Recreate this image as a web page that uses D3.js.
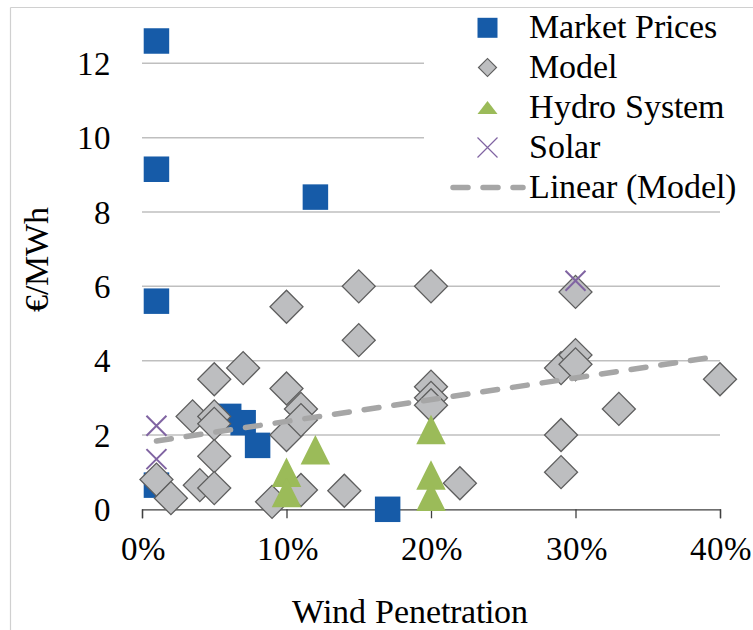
<!DOCTYPE html>
<html>
<head>
<meta charset="utf-8">
<script src="https://cdn.jsdelivr.net/npm/d3@7"></script>
<style>
  @font-face { font-family: "ChartSerif"; src: local("Liberation Serif"), local("LiberationSerif"), local("LiberationSerif-Regular"), local("Times New Roman"), local("TimesNewRomanPSMT"), local("Tinos"), local("Tinos-Regular"), local("DejaVu Serif"), local("DejaVuSerif"); }
  html, body { margin: 0; padding: 0; background: #fff; }
  svg { display: block; }
  svg text { font-family: "ChartSerif", "Liberation Serif", "DejaVu Serif", serif; fill: #000; }
</style>
</head>
<body>
<svg id="chart" width="753" height="630"></svg>
<script>
// ---- Data (x = wind penetration in %, y = €/MWh) ----
const marketX = [1, 1, 12, 1, 1, 6, 7, 8, 17];
const marketY = [12.6, 9.15, 8.4, 5.6, 0.65, 2.5, 2.33, 1.72, 0];

const modelX = [1, 2, 3.5, 4, 5, 5, 5, 5, 5, 7, 9, 10, 10, 10, 11, 11, 11, 14, 15, 15, 20, 20, 20, 20, 22, 29, 29, 29, 30, 30, 30, 33, 40];
const modelY = [0.8, 0.3, 2.5, 0.65, 3.5, 2.5, 2.3, 1.43, 0.57, 3.8, 0.2, 5.45, 3.25, 2.0, 2.7, 2.4, 0.52, 0.5, 6.0, 4.55, 6.0, 3.3, 3.0, 2.8, 0.7, 3.8, 2.0, 1.0, 5.85, 4.15, 3.9, 2.7, 3.5];

const hydroX = [12, 10, 10, 20, 20, 20];
const hydroY = [1.6, 1.0, 0.45, 2.15, 0.92, 0.35];

const solarX = [1, 1, 30];
const solarY = [2.25, 1.35, 6.15];

const xTicks = [0, 10, 20, 30, 40];
const yTicks = [0, 2, 4, 6, 8, 10, 12];
const legendLabels = ["Market Prices", "Model", "Hydro System", "Solar", "Linear (Model)"];

// ---- Setup ----
const FONT = '"ChartSerif", "Liberation Serif", "DejaVu Serif", serif';
const svg = d3.select("#chart");
const x = d3.scaleLinear().domain([0, 40]).range([142, 720]);
const y = d3.scaleLinear().domain([0, 12]).range([509.3, 63.3]);

const COL = {
  blue: "#165BA8",
  gray: "#BDBEC0",
  grayStroke: "#5E5E5E",
  green: "#9BBB59",
  purple: "#8064A2",
  trend: "#A6A6A6",
  grid: "#BFBFBF",
  axis: "#404040"
};

// outer chart border (left + top visible)
svg.append("line").attr("x1", 10.5).attr("x2", 10.5).attr("y1", 7.5).attr("y2", 630)
  .attr("stroke", "#D0D0D0").attr("stroke-width", 1.2);
svg.append("line").attr("x1", 10.5).attr("x2", 753).attr("y1", 7.5).attr("y2", 7.5)
  .attr("stroke", "#D0D0D0").attr("stroke-width", 1.2);

// gridlines
svg.append("g").selectAll("line").data(yTicks.filter(d => d > 0)).join("line")
  .attr("x1", x(0)).attr("x2", x(40))
  .attr("y1", d => y(d)).attr("y2", d => y(d))
  .attr("stroke", COL.grid).attr("stroke-width", 1.5);

// x axis
const xAxis = d3.axisBottom(x).tickValues(xTicks).tickSize(9).tickFormat(d => d + "%");
const gx = svg.append("g").attr("transform", `translate(0,${y(0)})`).call(xAxis)
  .attr("font-family", FONT).attr("font-size", 33);
gx.select(".domain").attr("stroke", COL.axis).attr("stroke-width", 1.3);
gx.selectAll(".tick line").attr("stroke", COL.axis).attr("stroke-width", 1.3);
gx.selectAll(".tick text")
  .attr("y", 0).attr("dy", null)
  .attr("transform", "translate(0,51)")
  .attr("fill", "#000");

// y axis (labels only)
const yAxis = d3.axisLeft(y).tickValues(yTicks).tickSize(0).tickPadding(0);
const gy = svg.append("g").attr("transform", `translate(111,0)`).call(yAxis)
  .attr("font-family", FONT).attr("font-size", 33);
gy.select(".domain").remove();
gy.selectAll(".tick text")
  .attr("x", 0).attr("dy", "0.34em")
  .attr("fill", "#000");

// axis titles
svg.append("text").attr("x", 410).attr("y", 623).attr("text-anchor", "middle")
  .attr("font-family", FONT).attr("font-size", 34).text("Wind Penetration");
svg.append("text").attr("transform", "translate(48,259) rotate(-90)").attr("text-anchor", "middle")
  .attr("font-family", FONT).attr("font-size", 34).text("€/MWh");

// custom symbol types
const triangleType = (w, h) => ({
  draw(ctx) {
    ctx.moveTo(0, -h / 2);
    ctx.lineTo(w / 2, h / 2);
    ctx.lineTo(-w / 2, h / 2);
    ctx.closePath();
  }
});
const crossType = (s) => ({
  draw(ctx) {
    ctx.moveTo(-s / 2, -s / 2); ctx.lineTo(s / 2, s / 2);
    ctx.moveTo(s / 2, -s / 2); ctx.lineTo(-s / 2, s / 2);
  }
});
const squareSym = (side) => d3.symbol().type(d3.symbolSquare).size(side * side)();
const diamondSym = (diag) => d3.symbol().type(d3.symbolSquare).size((diag / Math.SQRT2) ** 2)();

const plot = svg.append("g");

// Market prices
plot.append("g").selectAll("path").data(d3.zip(marketX, marketY)).join("path")
  .attr("transform", d => `translate(${x(d[0])},${y(d[1])})`)
  .attr("d", squareSym(25.5))
  .attr("fill", COL.blue);

// Model
plot.append("g").selectAll("path").data(d3.zip(modelX, modelY)).join("path")
  .attr("transform", d => `translate(${x(d[0])},${y(d[1])}) rotate(45)`)
  .attr("d", diamondSym(33))
  .attr("fill", COL.gray).attr("stroke", COL.grayStroke).attr("stroke-width", 1.3);

// Hydro
plot.append("g").selectAll("path").data(d3.zip(hydroX, hydroY)).join("path")
  .attr("transform", d => `translate(${x(d[0])},${y(d[1])})`)
  .attr("d", d3.symbol().type(triangleType(29.5, 29.5))())
  .attr("fill", COL.green);

// Solar
plot.append("g").selectAll("path").data(d3.zip(solarX, solarY)).join("path")
  .attr("transform", d => `translate(${x(d[0])},${y(d[1])})`)
  .attr("d", d3.symbol().type(crossType(20))())
  .attr("fill", "none").attr("stroke", COL.purple).attr("stroke-width", 2);

// Linear trend of Model (least squares)
const mx = d3.mean(modelX), my = d3.mean(modelY);
const slope = d3.sum(modelX, (v, i) => (v - mx) * (modelY[i] - my)) / d3.sum(modelX, v => (v - mx) ** 2);
const intercept = my - slope * mx;
const xr = d3.extent(modelX);
const trendPts = xr.map(v => [v, intercept + slope * v]);
plot.append("path")
  .attr("d", d3.line().x(d => x(d[0])).y(d => y(d[1]))(trendPts))
  .attr("fill", "none").attr("stroke", COL.trend).attr("stroke-width", 5.5)
  .attr("stroke-linecap", "round").attr("stroke-dasharray", "15,15");

// Legend (white background covering gridlines)
const lg = svg.append("g");
lg.append("rect").attr("x", 424).attr("y", 9).attr("width", 329).attr("height", 196).attr("fill", "#fff");
const baselines = [38.3, 78, 118, 158, 198];
const mxL = 487.5;
lg.selectAll("text").data(legendLabels).join("text")
  .attr("x", 529).attr("y", (d, i) => baselines[i])
  .attr("font-family", FONT).attr("font-size", 34).text(d => d);
lg.append("path").attr("transform", `translate(${mxL},${baselines[0] - 10.5})`)
  .attr("d", squareSym(20)).attr("fill", COL.blue);
lg.append("path").attr("transform", `translate(${mxL},${baselines[1] - 10.5}) rotate(45)`)
  .attr("d", diamondSym(18)).attr("fill", COL.gray).attr("stroke", COL.grayStroke).attr("stroke-width", 1.2);
lg.append("path").attr("transform", `translate(${mxL},${baselines[2] - 10.5})`)
  .attr("d", d3.symbol().type(triangleType(20, 13))()).attr("fill", COL.green);
lg.append("path").attr("transform", `translate(${mxL},${baselines[3] - 10.5})`)
  .attr("d", d3.symbol().type(crossType(20))()).attr("fill", "none").attr("stroke", COL.purple).attr("stroke-width", 1.2);
lg.append("path")
  .attr("d", d3.line()([[453, baselines[4] - 10.5], [523, baselines[4] - 10.5]]))
  .attr("stroke", COL.trend).attr("stroke-width", 5.5).attr("stroke-linecap", "round")
  .attr("stroke-dasharray", "15,15");
</script>
</body>
</html>
